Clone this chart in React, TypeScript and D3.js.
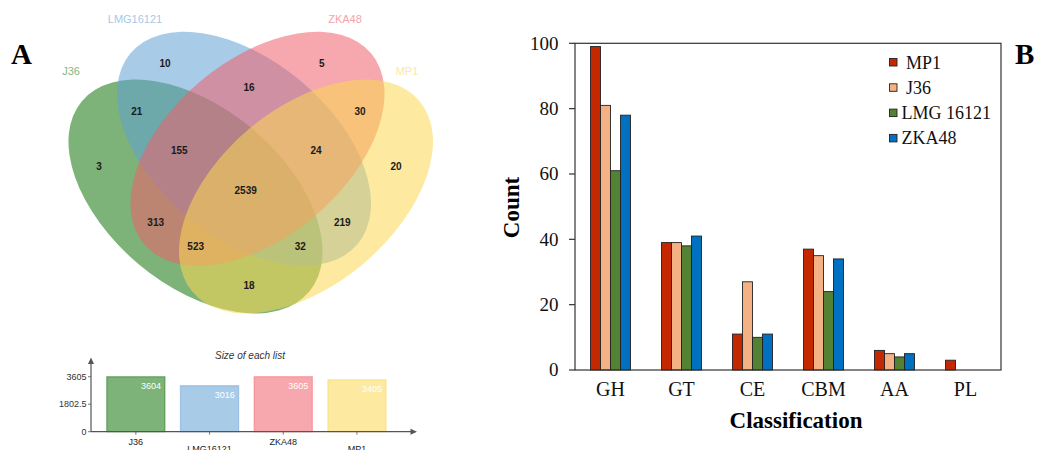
import React from "react";
import * as d3 from "d3";

// ---------- Data ----------
const vennSetNames = ["J36", "LMG16121", "ZKA48", "MP1"];
const vennRegionKeys = ["J", "L", "Z", "M", "JL", "LZ", "ZM", "JLZ", "JLZM", "LZM", "JZ", "JZM", "JLM", "LM", "JM"];
const vennRegionCounts = [3, 10, 5, 20, 21, 16, 30, 155, 2539, 24, 313, 523, 32, 219, 18];

const listNames = ["J36", "LMG16121", "ZKA48", "MP1"];
const listSizes = [3604, 3016, 3605, 3405];
const listTicks = [0, 1802.5, 3605];

const classes = ["GH", "GT", "CE", "CBM", "AA", "PL"];
const strains = ["MP1", "J36", "LMG 16121", "ZKA48"];
const mp1Counts = [99, 39, 11, 37, 6, 3];
const j36Counts = [81, 39, 27, 35, 5, 0];
const lmgCounts = [61, 38, 10, 24, 4, 0];
const zkaCounts = [78, 41, 11, 34, 5, 0];
const countTicks = [0, 20, 40, 60, 80, 100];

// ---------- Layout / style ----------
const vennBase = ["#137309", "#61a0d5", "#ef616c", "#fbd752"];
const vennLabelColor = ["#86b882", "#a7c8e6", "#f5a3aa", "#fde8a0"];
const vennEllipses = [
  { cx: 195.5, cy: 196.5, angle: 40 },
  { cx: 244, cy: 148.7, angle: 40 },
  { cx: 257.5, cy: 148.7, angle: -40 },
  { cx: 306, cy: 196.5, angle: -40 },
];
const ellRx = 148.3;
const ellRy = 88.4;
const vennLabelPos = [
  [71, 71], [135, 19.5], [345, 19.5], [407, 71],
];
const regionPos: Record<string, [number, number]> = {
  J: [99, 166.7], L: [165, 63.3], Z: [321.7, 63.3], M: [396, 166.7],
  JL: [136.7, 111], LZ: [249, 87.3], ZM: [360, 111], JLZ: [179.3, 150.7],
  JLZM: [245.7, 190.7], LZM: [316, 150.7], JZ: [155.7, 222], JZM: [195.7, 246],
  JLM: [300.3, 246], LM: [342.3, 222], JM: [249, 285.7],
};

const barColors = ["#c32800", "#f4b183", "#548235", "#0070c0"];

const sans = "'Liberation Sans', Arial, sans-serif";
const serif = "'Liberation Serif', 'Times New Roman', serif";

export default function App() {
  // small bar chart scales
  const sx = d3.scaleBand<string>().domain(listNames).range([99, 393.8]).paddingInner(0.21).paddingOuter(0.105);
  const sy = d3.scaleLinear().domain([0, 3605]).range([431.7, 376.7]);

  // main bar chart scales
  const x0 = d3.scaleBand<string>().domain(classes).range([575, 1001]);
  const x1 = d3.scaleBand<string>().domain(strains).range([-20, 20]);
  const y = d3.scaleLinear().domain([0, 100]).range([370, 43.3]);
  const series = [mp1Counts, j36Counts, lmgCounts, zkaCounts];

  return (
    <svg width={1037} height={450} style={{ position: "absolute", left: 0, top: 0, background: "#fff" }}>
      {/* ---------- Panel A: Venn ---------- */}
      <text x={11} y={63.5} fontFamily={serif} fontWeight="bold" fontSize={29} fill="#000">A</text>
      {vennEllipses.map((e, i) => (
        <ellipse key={i} cx={e.cx} cy={e.cy} rx={ellRx} ry={ellRy}
          transform={`rotate(${e.angle} ${e.cx} ${e.cy})`} fill={vennBase[i]} fillOpacity={0.55} />
      ))}
      {vennSetNames.map((n, i) => (
        <text key={n} x={vennLabelPos[i][0]} y={vennLabelPos[i][1]} dy="0.36em" textAnchor="middle"
          fontFamily={sans} fontSize={11} fill={vennLabelColor[i]}>{n}</text>
      ))}
      {vennRegionKeys.map((k, i) => (
        <text key={k} x={regionPos[k][0]} y={regionPos[k][1]} dy="0.36em" textAnchor="middle"
          fontFamily={sans} fontWeight="bold" fontSize={10} fill="#1a1a1a">{vennRegionCounts[i]}</text>
      ))}

      {/* ---------- Size of each list ---------- */}
      <text x={250} y={358.5} textAnchor="middle" fontFamily={sans} fontStyle="italic" fontSize={10} fill="#333">Size of each list</text>
      {listNames.map((n, i) => (
        <g key={n}>
          <rect x={sx(n)} y={sy(listSizes[i])} width={sx.bandwidth()} height={sy(0) - sy(listSizes[i])}
            fill={vennBase[i]} fillOpacity={0.55} stroke={vennBase[i]} strokeOpacity={0.45} strokeWidth={1.2} />
          <text x={(sx(n) as number) + sx.bandwidth() - 4} y={sy(listSizes[i]) + 12.5} textAnchor="end"
            fontFamily={sans} fontSize={9} fill="#fff">{listSizes[i]}</text>
          <line x1={(sx(n) as number) + sx.bandwidth() / 2} x2={(sx(n) as number) + sx.bandwidth() / 2}
            y1={sy(0)} y2={sy(0) + 3} stroke="#555" strokeWidth={0.8} />
          <text x={(sx(n) as number) + sx.bandwidth() / 2} y={i % 2 === 0 ? 445 : 452} textAnchor="middle"
            fontFamily={sans} fontSize={9} fill="#222">{n}</text>
        </g>
      ))}
      {listTicks.map((t) => (
        <g key={t}>
          <line x1={88} x2={91} y1={sy(t)} y2={sy(t)} stroke="#555" strokeWidth={0.8} />
          <text x={86.5} y={sy(t)} dy="0.35em" textAnchor="end" fontFamily={sans} fontSize={9} fill="#333">{t}</text>
        </g>
      ))}
      <line x1={91} x2={91} y1={sy(0)} y2={361} stroke="#555" strokeWidth={1.2} />
      <path d="M91,357.5 L88,364 L94,364 Z" fill="#555" />
      <line x1={91} x2={413} y1={sy(0)} y2={sy(0)} stroke="#555" strokeWidth={1.2} />
      <path d="M417,431.7 L410.5,428.7 L410.5,434.7 Z" fill="#555" />

      {/* ---------- Panel B: grouped bars ---------- */}
      <text x={1015} y={64} fontFamily={serif} fontWeight="bold" fontSize={29} fill="#000">B</text>
      {classes.map((c, ci) => (
        <g key={c} transform={`translate(${(x0(c) as number) + x0.bandwidth() / 2},0)`}>
          {strains.map((s, si) => {
            const v = series[si][ci];
            if (v <= 0) return null;
            return (
              <rect key={s} x={x1(s)} y={y(v)} width={x1.bandwidth()} height={y(0) - y(v)}
                fill={barColors[si]} stroke="#222" strokeWidth={0.9} />
            );
          })}
          <text x={0} y={395.5} textAnchor="middle" fontFamily={serif} fontSize={20} fill="#111">{c}</text>
        </g>
      ))}
      <rect x={575} y={43.3} width={426} height={y(0) - 43.3} fill="none" stroke="#333" strokeWidth={1.2} />
      {countTicks.map((t) => (
        <g key={t}>
          <line x1={569} x2={575} y1={y(t)} y2={y(t)} stroke="#333" strokeWidth={1.2} />
          <text x={558.5} y={y(t)} dy="0.33em" textAnchor="end" fontFamily={serif} fontSize={19} fill="#111">{t}</text>
        </g>
      ))}
      <text x={796} y={428} textAnchor="middle" fontFamily={serif} fontWeight="bold" fontSize={23} fill="#000">Classification</text>
      <text transform="translate(519,207.5) rotate(-90)" textAnchor="middle" fontFamily={serif} fontWeight="bold" fontSize={23} fill="#000">Count</text>
      {strains.map((s, si) => (
        <g key={s}>
          <rect x={889.5} y={58.5 + si * 25.3} width={7.5} height={7.5} fill={barColors[si]} stroke="#222" strokeWidth={0.9} />
          <text x={si < 2 ? 906 : 901.5} y={68.5 + si * 25.3} fontFamily={serif} fontSize={18} fill="#111">{s}</text>
        </g>
      ))}
    </svg>
  );
}
